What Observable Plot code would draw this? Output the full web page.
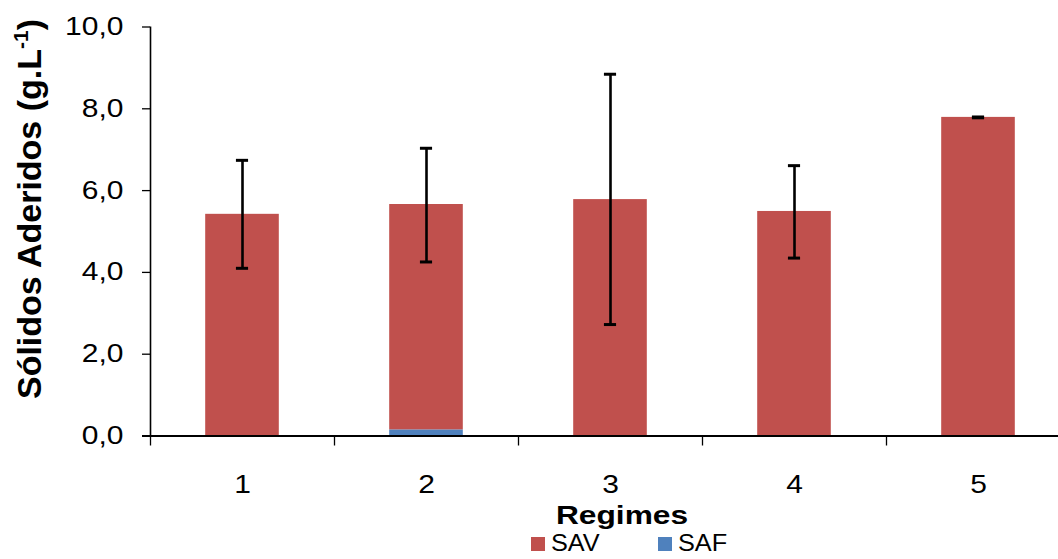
<!DOCTYPE html>
<html>
<head>
<meta charset="utf-8">
<script src="https://cdn.jsdelivr.net/npm/d3@7"></script>
<script src="https://cdn.jsdelivr.net/npm/@observablehq/plot@0.6"></script>
<style>
  body { margin: 0; background: #fff; overflow: hidden; font-family: "Liberation Sans", Arial, sans-serif; }
  #chart svg { display: block; overflow: visible; }
  #legend { position: relative; height: 31px; font-size: 23px; color: #000; }
  #legend .item { position: absolute; top: 0; display: flex; align-items: center; height: 31px; }
  #legend .sw { width: 14px; height: 14px; margin-right: 6px; }
  #legend .txt { display: inline-block; transform: scaleX(1.1); transform-origin: left center; }
</style>
</head>
<body>
<div id="chart"></div>
<div id="legend"></div>
<script>
// Regimes and adhered solids (g/L): volatile (SAV) and fixed (SAF) fractions
const regimes = [1, 2, 3, 4, 5];
const sav = [5.42, 5.51, 5.78, 5.49, 7.79];
const saf = [0.00, 0.15, 0.00, 0.00, 0.00];
const errMean = [5.42, 5.645, 5.785, 5.48, 7.79];
const errSd = [1.32, 1.39, 3.06, 1.13, 0.01];
const yTicks = [0, 2, 4, 6, 8, 10];
const seriesNames = ["SAV", "SAF"];
const seriesColors = ["#C0504D", "#4F81BD"];

const halfBar = 0.2;   // bar half-width in regime units
const halfCap = 0.033; // error-bar cap half-width
const stretch = 1.2;   // horizontal stretch of the label glyphs

const stacks = regimes.flatMap((r, i) => [
  { regime: r, series: "SAF", y1: 0, y2: saf[i] },
  { regime: r, series: "SAV", y1: saf[i], y2: saf[i] + sav[i] }
]).filter(d => d.y2 > d.y1);

const errors = regimes.map((r, i) => ({
  regime: r, lo: errMean[i] - errSd[i], hi: errMean[i] + errSd[i]
}));

const boundaries = [0.5, ...regimes.map(r => r + 0.5)];
const fmt = d => d.toFixed(1).replace(".", ",");

const W = 1058, H = 528;
const chart = Plot.plot({
  width: W,
  height: H,
  marginLeft: 150,
  marginRight: -12,
  marginTop: 26.5,
  marginBottom: 92.5,
  style: { fontFamily: "Liberation Sans, Arial, sans-serif", fontSize: "25px", color: "#000", background: "#fff" },
  x: { type: "linear", domain: [0.5, 5.5] },
  y: { domain: [0, 10] },
  color: { domain: seriesNames, range: seriesColors },
  marks: [
    Plot.rect(stacks, {
      x1: d => d.regime - halfBar, x2: d => d.regime + halfBar,
      y1: "y1", y2: "y2", fill: "series"
    }),
    Plot.ruleX(errors, { x: "regime", y1: "lo", y2: "hi", stroke: "#000", strokeWidth: 2.6 }),
    Plot.ruleY(errors, { y: "hi", x1: d => d.regime - halfCap, x2: d => d.regime + halfCap, stroke: "#000", strokeWidth: 3 }),
    Plot.ruleY(errors, { y: "lo", x1: d => d.regime - halfCap, x2: d => d.regime + halfCap, stroke: "#000", strokeWidth: 3 }),
    // y axis
    Plot.axisY({ ticks: yTicks, tickFormat: fmt, tickSize: 8, tickPadding: 19, fontSize: 25, label: null, stroke: "#000", strokeWidth: 1.3 }),
    Plot.ruleX([0.5], { y1: 0, y2: 10, stroke: "#000", strokeWidth: 1.6 }),
    // x axis: boundary ticks and centered category labels
    Plot.axisX({ ticks: boundaries, tickFormat: () => "", tickSize: 10, label: null, stroke: "#000", strokeWidth: 1.3 }),
    Plot.axisX({ ticks: regimes, tickFormat: d => String(d), tickSize: 0, tickPadding: 39, fontSize: 25, label: null }),
    Plot.ruleY([0], { x1: 0.5 - 8 / 184, x2: 5.5, stroke: "#000", strokeWidth: 2 })
  ]
});
document.getElementById("chart").append(chart);

const svg = d3.select(chart);

// Widen the tick-label glyphs about their anchor points
svg.selectAll("g[aria-label$='tick label'] text").each(function () {
  const t = this.getAttribute("transform") || "";
  this.setAttribute("transform", (t + ` scale(${stretch},1)`).trim());
});

// Axis titles
const yTitle = svg.append("text")
  .attr("transform", "translate(41,209) rotate(-90)")
  .attr("text-anchor", "middle")
  .attr("font-family", "Liberation Sans, Arial, sans-serif")
  .attr("font-size", 34).attr("font-weight", "bold").attr("fill", "#000");
yTitle.append("tspan").text("Sólidos Aderidos (g.L");
yTitle.append("tspan").attr("font-size", 21).attr("dy", -13).text("-1");
yTitle.append("tspan").attr("dy", 13).text(")");

svg.append("text")
  .attr("transform", `translate(622,524) scale(1.22,1)`)
  .attr("text-anchor", "middle")
  .attr("font-family", "Liberation Sans, Arial, sans-serif")
  .attr("font-size", 26).attr("font-weight", "bold").attr("fill", "#000")
  .text("Regimes");

// Legend below the chart
const legend = document.getElementById("legend");
const legendX = [531, 658];
seriesNames.forEach((name, i) => {
  const item = document.createElement("div");
  item.className = "item";
  item.style.left = legendX[i] + "px";
  item.innerHTML = `<span class="sw" style="background:${seriesColors[i]}"></span><span class="txt">${name}</span>`;
  legend.append(item);
});
</script>
</body>
</html>
